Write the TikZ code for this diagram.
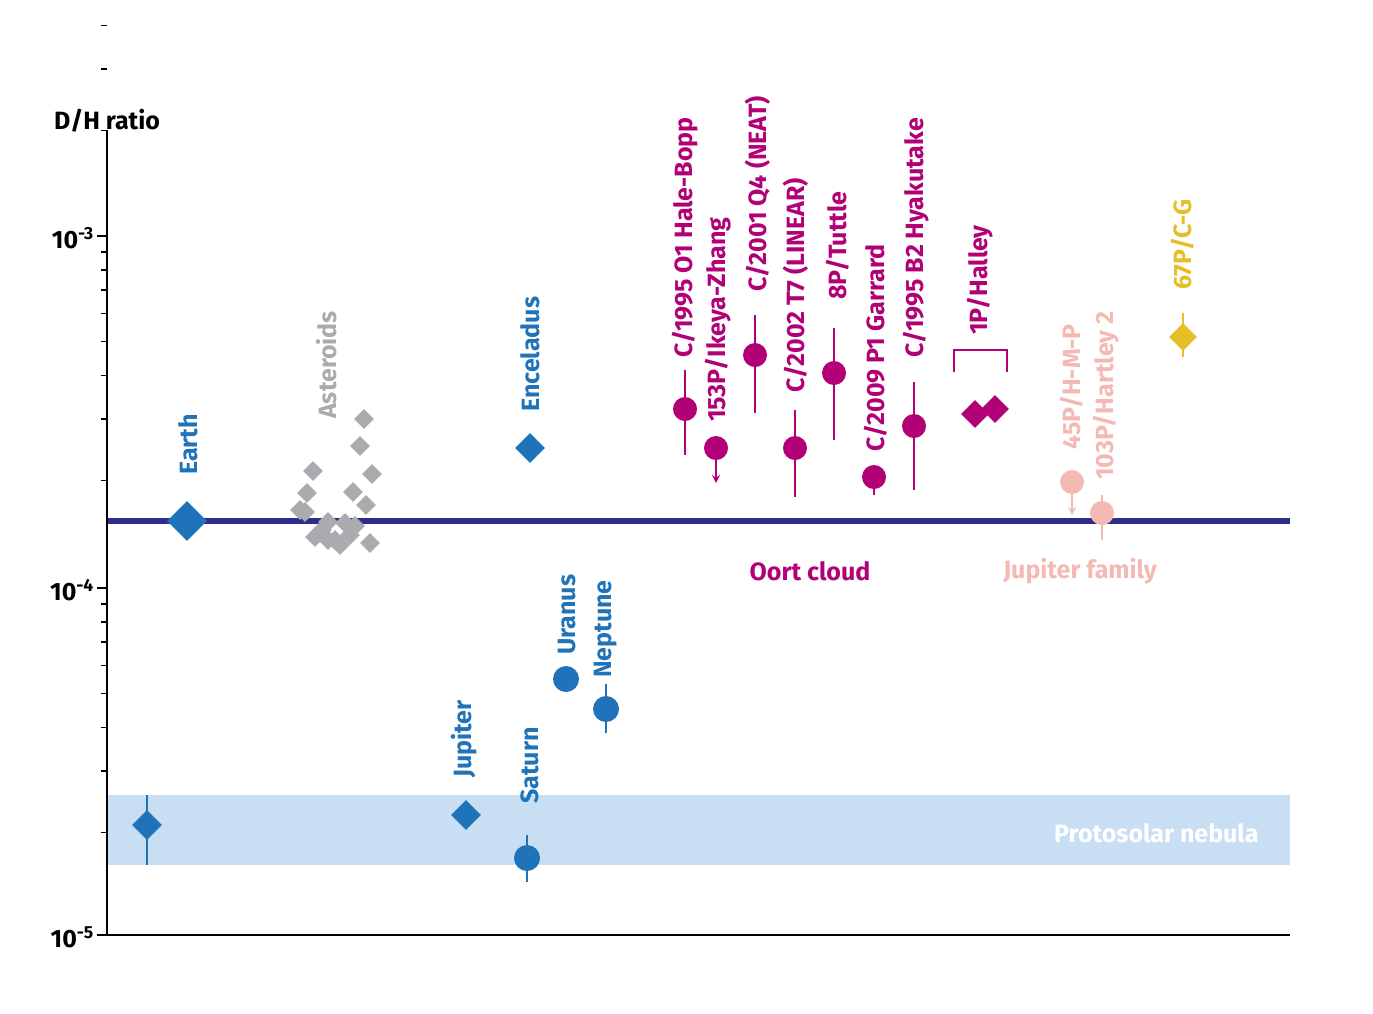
\documentclass[tikz,border=0pt]{standalone}
\usepackage{fontspec}
\setmainfont{Fira Sans}
\usepackage{tikz}
\usetikzlibrary{calc,shapes.geometric}
\definecolor{esablue}{RGB}{30,115,185}
\definecolor{esagrey}{RGB}{170,170,175}
\definecolor{oort}{RGB}{178,0,118}
\definecolor{jfam}{RGB}{245,185,180}
\definecolor{rosetta}{RGB}{230,190,40}
\definecolor{earthline}{RGB}{45,45,140}
\definecolor{nebula}{RGB}{200,223,243}
\begin{document}
\begin{tikzpicture}[x=1pt,y=-1pt,font=\fontsize{25}{28}\selectfont\bfseries]
    \tikzstyle{dia}=[diamond,inner sep=0,minimum size=30,fill]
    \tikzstyle{small dia}=[diamond,inner sep=0,minimum size=20,fill=esagrey]
    \tikzstyle{dot}=[circle,inner sep=0,minimum size=24,fill]
    \tikzstyle{err}=[line width=2.5]
    \tikzstyle{lbl}=[rotate=90,anchor=west,inner sep=0]
    \useasboundingbox (0,0) rectangle (1373,1013);
% protosolar band and Earth line
\fill[nebula] (107,795) rectangle (1290,865);
\node[white,anchor=east] (neb) at (1262,833) {Protosolar nebula};
\draw[earthline,line width=6] (107,521) -- (1290,521);
% axes
\draw[line width=2] (107,130) -- (107,935) -- (1290,935);
\node (yl) at (107,121) {D/H ratio};
\foreach \d/\e in {236/3,588/4,935/5}{
    \draw[line width=2] (97,\d) -- (107,\d);
    \node[anchor=east,inner sep=0] at (94,\d+2) {10\textsuperscript{-\e}};
}
\foreach \d in {236,588}
    \foreach \k in {2,...,9}
        \draw[line width=1.5] (101,{\d+350-350*log10(\k)}) -- (107,{\d+350-350*log10(\k)});
\foreach \k in {2,...,9}
    \draw[line width=1.5] (101,{236-350*log10(\k)}) -- (107,{236-350*log10(\k)});
% planets and moons
\draw[esablue,err] (147,795) -- (147,865);
\node (ps)[dia,esablue] at (147,825) {};
\node (earth)[dia,esablue,minimum size=40] at (187,521) {};
\node[lbl,esablue] at (188,475) {Earth};
\node (enc)[dia,esablue] at (530,448) {};
\node[lbl,esablue] at (530,412) {Enceladus};
\node (jup)[dia,esablue] at (466,815) {};
\node[lbl,esablue] at (464,778) {Jupiter};
\draw[esablue,err] (527,835) -- (527,882);
\node (sat)[dot,esablue,minimum size=26] at (527,858) {};
\node[lbl,esablue] at (530,804) {Saturn};
\node (ura)[dot,esablue,minimum size=26] at (566,679) {};
\node[lbl,esablue] at (567,655) {Uranus};
\draw[esablue,err] (606,684) -- (606,733);
\node (nep)[dot,esablue,minimum size=26] at (606,709) {};
\node[lbl,esablue] at (606,678) {Neptune};
% asteroids
\foreach \p in {(364,419),(360,446),(372,474),(313,471),(353,492),(366,505),(307,493),(305,512),(328,522),(345,523),(355,526),(315,537),(335,540),(370,543),(340,545),(322,530),(300,510),(350,535),(328,540)}
    \node[small dia] at \p {};
\node[lbl,esagrey] at (327,419) {Asteroids};
% Oort cloud comets
\tikzset{every node/.append style={oort}}
\draw[oort,err] (685,370) -- (685,455);
\node (hb)[dot] at (685,409) {};
\node[lbl] at (685,358) {C/1995 O1 Hale-Bopp};
\draw[oort,err,-stealth] (716,448) -- (716,483);
\node (iz)[dot] at (716,448) {};
\node[lbl] at (718,422) {153P/Ikeya-Zhang};
\draw[oort,err] (755,315) -- (755,413);
\node (neat)[dot] at (755,355) {};
\node[lbl] at (758,292) {C/2001 Q4 (NEAT)};
\draw[oort,err] (795,410) -- (795,497);
\node (lin)[dot] at (795,448) {};
\node[lbl] at (796,393) {C/2002 T7 (LINEAR)};
\draw[oort,err] (834,328) -- (834,440);
\node (tut)[dot] at (834,373) {};
\node[lbl] at (838,300) {8P/Tuttle};
\draw[oort,err] (874,465) -- (874,495);
\node (gar)[dot] at (874,477) {};
\node[lbl] at (876,452) {C/2009 P1 Garrard};
\draw[oort,err] (914,382) -- (914,490);
\node (hya)[dot] at (914,426) {};
\node[lbl] at (916,358) {C/1995 B2 Hyakutake};
\node (hal1)[dia,minimum size=28] at (975,414) {};
\node (hal2)[dia,minimum size=28] at (995,409) {};
\draw[oort,err] (954,372) -- (954,350) -- (1007,350) -- (1007,372);
\node[lbl] at (980,335) {1P/Halley};
\node (oc) at (810,571) {Oort cloud};
% Jupiter-family comets
\tikzset{every node/.append style={jfam}}
\draw[jfam,err,-stealth] (1072,482) -- (1072,515);
\node (hmp)[dot] at (1072,482) {};
\node[lbl] at (1072,450) {45P/H-M-P};
\draw[jfam,err] (1102,495) -- (1102,540);
\node (har)[dot] at (1102,513) {};
\node[lbl] at (1106,480) {103P/Hartley 2};
\node (jf) at (1080,571) {Jupiter family};
% Rosetta
\draw[rosetta,err] (1183,313) -- (1183,357);
\node (cg)[dia,rosetta,minimum size=28] at (1183,337) {};
\node[lbl,rosetta] at (1183,290) {67P/C-G};
\end{tikzpicture}
\end{document}
